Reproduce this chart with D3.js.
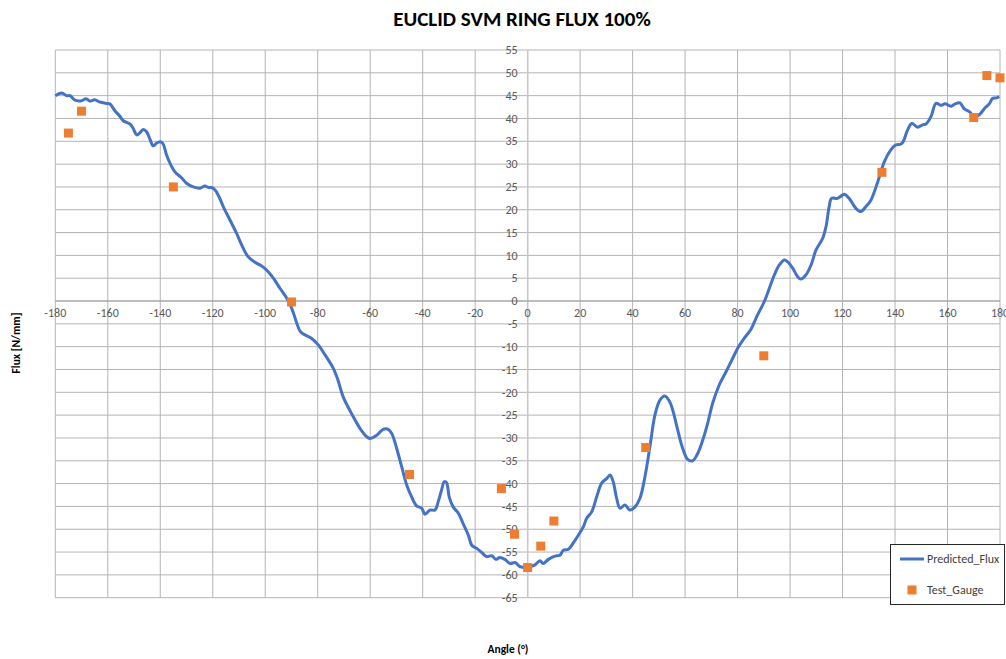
<!DOCTYPE html>
<html>
<head>
<meta charset="utf-8">
<script src="https://cdn.jsdelivr.net/npm/d3@7.9.0/dist/d3.min.js"></script>
<style>
  html, body { margin: 0; padding: 0; background: #fff; overflow: hidden; }
  svg { display: block; font-family: Carlito, Lato, sans-serif; }
</style>
</head>
<body>
<svg id="chart"></svg>
<script>
// Predicted_Flux curve
let fluxAngle = [
  -180, -177.6, -175.7, -174.4, -172.5, -170, -168.3, -166.8, -164.9, -163,
  -160.4, -159.2, -157.3, -155.4, -154.1, -151.6, -150.3, -149, -147.7, -146.5,
  -145.2, -143.9, -142.7, -141.4, -139.9, -138.9, -137.6, -136.3, -134.4, -131.9,
  -130, -127.4, -124.9, -123, -121.7, -119.8, -117.9, -116, -113.4, -110.9,
  -109, -106.5, -103.9, -101.4, -99.5, -96.9, -94.4, -91.8, -89.9, -88,
  -86.5, -82.3, -79.8, -77.2, -74.1, -72.3, -70.3, -66.5, -63.9, -61.4,
  -60.1, -57.5, -55, -53.1, -51.8, -49.9, -48, -46.1, -44.2, -42.3,
  -40.4, -39.1, -37.2, -35.3, -34.1, -32.8, -31.8, -30.9, -29.9, -28.4,
  -26.4, -24.5, -22.6, -21.3, -19.4, -17.5, -15.6, -13.7, -12.1, -10.6,
  -8.7, -6.7, -4.8, -2.9, -1, 0.9, 2.8, 4.7, 5.9, 7.9,
  10.4, 12.3, 13.6, 15.5, 17.4, 19.3, 21.2, 22.5, 24.4, 26.3,
  28.2, 30.1, 31.4, 32.6, 33.9, 35.2, 37.1, 39, 40.9, 42.8,
  44.7, 46.6, 48.5, 50.4, 52.3, 54, 55.3, 57.2, 59.1, 61,
  62.9, 64.8, 66.7, 68.6, 70.5, 73, 75.6, 78.1, 80, 82.5,
  85.1, 87.3, 90.2, 92.1, 94, 95.9, 97.8, 99.1, 101, 102.9,
  104.1, 106, 108, 109.9, 112.4, 113.7, 114.9, 115.8, 118.1, 120.7,
  122.5, 125.1, 127, 128.9, 130.8, 133.4, 135.9, 138.4, 140.3, 142.3,
  143.1, 144.8, 146.4, 148.6, 150.5, 151.8, 153.7, 155.6, 157.5, 159.1,
  161.3, 162.9, 164.7, 166.4, 168.3, 170.2, 172.1, 174.4, 175.9, 177.2,
  178.7, 179.7
];
let fluxValue = [
  45.0, 45.6, 45.0, 45.0, 44.0, 43.9, 44.3, 43.8, 44.1, 43.6,
  43.3, 43.2, 41.7, 40.5, 39.5, 38.8, 37.8, 36.4, 36.9, 37.6,
  37.1, 35.4, 34.0, 34.6, 34.9, 34.4, 32.0, 30.2, 28.3, 27.0,
  25.8, 25.0, 24.7, 25.2, 24.9, 24.7, 23.2, 20.7, 17.7, 14.8,
  12.3, 9.7, 8.5, 7.7, 6.8, 5.0, 2.8, 0.6, -1.6, -4.8,
  -6.8, -8.2, -9.6, -11.8, -14.7, -17.3, -21.0, -25.3, -27.9, -29.7,
  -30.1, -29.4, -28.1, -28.1, -29.0, -32.3, -36.3, -40.3, -42.9, -44.9,
  -45.4, -46.7, -45.8, -45.8, -44.0, -41.4, -39.6, -39.8, -42.9, -45.1,
  -46.5, -48.9, -51.3, -53.5, -54.2, -55.1, -56.0, -55.8, -56.6, -56.2,
  -56.6, -57.5, -57.3, -58.2, -58.4, -58.2, -57.8, -56.9, -57.5, -56.6,
  -55.9, -55.7, -54.6, -54.4, -53.0, -51.3, -49.5, -47.6, -46.2, -42.9,
  -39.9, -38.9, -38.1, -39.6, -43.2, -45.4, -44.7, -45.8, -45.1, -43.2,
  -38.5, -31.9, -25.0, -21.7, -20.8, -21.9, -23.9, -28.3, -32.3, -34.7,
  -35.0, -33.4, -30.5, -26.8, -22.4, -18.4, -15.5, -12.6, -10.4, -8.2,
  -6.2, -3.4, -0.1, 2.8, 5.7, 7.9, 9.0, 8.6, 7.2, 5.3,
  4.8, 5.7, 7.9, 11.2, 13.7, 16.3, 20.7, 22.5, 22.5, 23.4,
  22.5, 20.3, 19.6, 20.7, 22.1, 26.1, 30.5, 33.1, 34.2, 34.4,
  34.9, 37.5, 38.9, 38.1, 38.6, 38.8, 40.4, 43.3, 42.9, 43.2,
  42.7, 43.2, 43.4, 42.1, 41.5, 40.3, 40.8, 42.4, 43.2, 44.4,
  44.5, 44.8
];

// Test_Gauge points
let gaugeAngle = [-175, -170, -135, -90, -45, -10, -5, 0, 5, 10, 45, 90, 135, 170, 175, 180];
let gaugeValue = [36.8, 41.6, 25, -0.2, -38, -41.1, -51.1, -58.4, -53.7, -48.2, -32.1, -12, 28.2, 40.2, 49.4, 48.9];

let xTicks = d3.range(-180, 181, 20);
let yTicks = d3.range(-65, 56, 5);

let fluxData = fluxAngle.map((a, i) => ({ a, v: fluxValue[i] }));
let gaugeData = gaugeAngle.map((a, i) => ({ a, v: gaugeValue[i] }));

let W = 1006, H = 659;
let svg = d3.select('#chart').attr('width', W).attr('height', H);

let x = d3.scaleLinear().domain([-180, 180]).range([55.3, 1000]);
let y = d3.scaleLinear().domain([-65, 55]).range([597.7, 50]);

// gridlines
let grid = svg.append('g');
grid.selectAll('line.h')
  .data(yTicks)
  .join('line')
  .attr('x1', x(-180)).attr('x2', x(180))
  .attr('y1', d => y(d)).attr('y2', d => y(d))
  .attr('stroke', '#b4b4b4').attr('stroke-width', 1);
grid.selectAll('line.v')
  .data(xTicks)
  .join('line')
  .attr('y1', y(55)).attr('y2', y(-65))
  .attr('x1', d => x(d)).attr('x2', d => x(d))
  .attr('stroke', '#b4b4b4').attr('stroke-width', 1);

// axis lines crossing at zero
svg.append('line')
  .attr('x1', x(0)).attr('x2', x(0)).attr('y1', y(55)).attr('y2', y(-65))
  .attr('stroke', '#c8c8c8').attr('stroke-width', 1.5);
svg.append('line')
  .attr('x1', x(-180)).attr('x2', x(180)).attr('y1', y(0)).attr('y2', y(0))
  .attr('stroke', '#a0a0a0').attr('stroke-width', 1);

// tick labels
svg.append('g').selectAll('text')
  .data(yTicks)
  .join('text')
  .attr('x', x(0) - 10)
  .attr('y', d => y(d))
  .attr('dy', '0.35em')
  .attr('text-anchor', 'end')
  .attr('font-size', 12)
  .attr('fill', '#595959')
  .text(d => d);

svg.append('g').selectAll('text')
  .data(xTicks)
  .join('text')
  .attr('x', d => x(d))
  .attr('y', y(0) + 16)
  .attr('text-anchor', 'middle')
  .attr('font-size', 12)
  .attr('fill', '#595959')
  .text(d => d);

// series
let line = d3.line()
  .x(d => x(d.a))
  .y(d => y(d.v))
  .curve(d3.curveCatmullRom.alpha(0.5));

svg.append('path')
  .datum(fluxData)
  .attr('d', line)
  .attr('fill', 'none')
  .attr('stroke', '#4472c4')
  .attr('stroke-width', 3)
  .attr('stroke-linejoin', 'round');

let sq = 9;
svg.append('g').selectAll('rect')
  .data(gaugeData)
  .join('rect')
  .attr('x', d => x(d.a) - sq / 2)
  .attr('y', d => y(d.v) - sq / 2)
  .attr('width', sq)
  .attr('height', sq)
  .attr('fill', '#ed7d31');

// titles
svg.append('text')
  .attr('x', 522).attr('y', 26)
  .attr('text-anchor', 'middle')
  .attr('font-size', 21)
  .attr('font-weight', 'bold')
  .attr('fill', '#000')
  .text('EUCLID SVM RING FLUX 100%');

svg.append('text')
  .attr('transform', 'translate(20,343) rotate(-90)')
  .attr('text-anchor', 'middle')
  .attr('font-size', 11.5)
  .attr('font-weight', 'bold')
  .attr('fill', '#000')
  .text('Flux [N/mm]');

svg.append('text')
  .attr('x', 508).attr('y', 653)
  .attr('text-anchor', 'middle')
  .attr('font-size', 11.5)
  .attr('font-weight', 'bold')
  .attr('fill', '#000')
  .text('Angle (°)');

// legend
let lg = svg.append('g');
lg.append('rect')
  .attr('x', 890.5).attr('y', 544.5)
  .attr('width', 114).attr('height', 60)
  .attr('fill', '#fff')
  .attr('stroke', '#262626').attr('stroke-width', 1);
lg.append('line')
  .attr('x1', 900).attr('x2', 924).attr('y1', 559).attr('y2', 559)
  .attr('stroke', '#4472c4').attr('stroke-width', 3);
lg.append('text')
  .attr('x', 927).attr('y', 559).attr('dy', '0.35em')
  .attr('font-size', 12).attr('fill', '#404040')
  .text('Predicted_Flux');
lg.append('rect')
  .attr('x', 912 - sq / 2).attr('y', 590 - sq / 2)
  .attr('width', sq).attr('height', sq)
  .attr('fill', '#ed7d31');
lg.append('text')
  .attr('x', 927).attr('y', 590).attr('dy', '0.35em')
  .attr('font-size', 12).attr('fill', '#404040')
  .text('Test_Gauge');
</script>
</body>
</html>
